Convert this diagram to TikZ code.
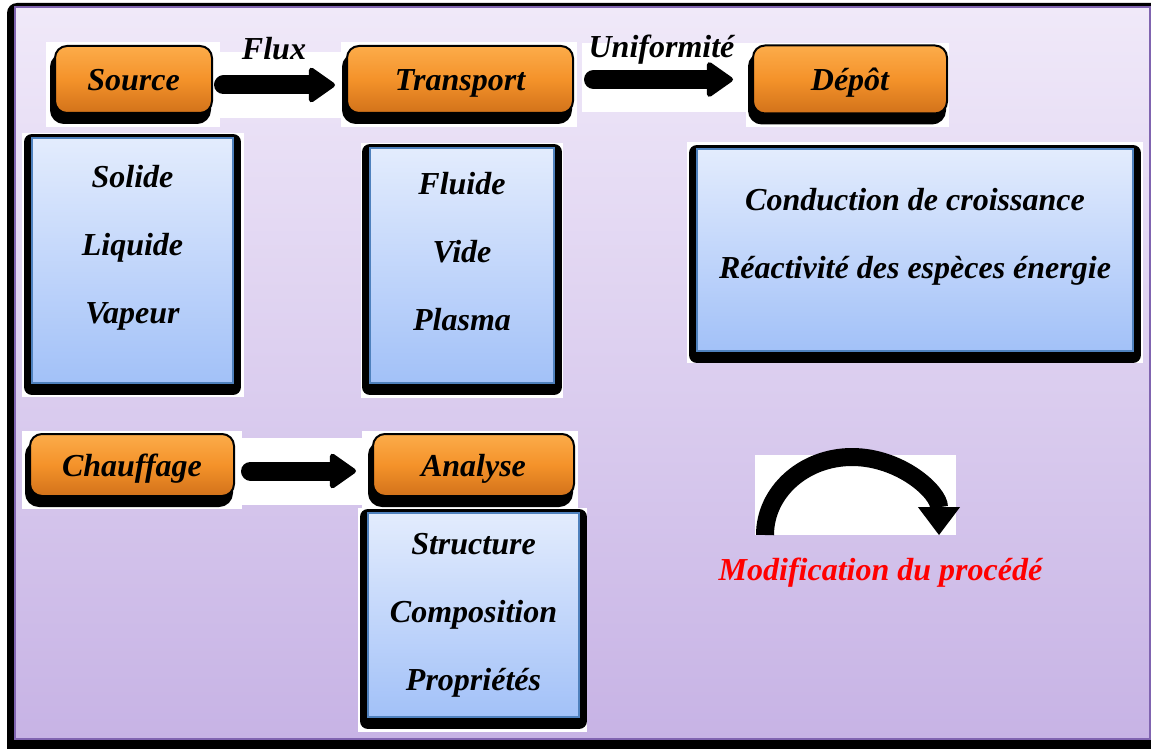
\documentclass[tikz,border=0pt]{standalone}
\usepackage{fontspec}
\setmainfont{Liberation Serif}
\usetikzlibrary{arrows.meta}

\begin{document}
\begin{tikzpicture}[x=1pt,y=-1pt,
  txt/.style={font=\fontsize{32}{68}\selectfont\bfseries\itshape, inner sep=0pt, align=center},
  orangebox/.style={txt, draw=black, line width=2pt, rounded corners=12pt,
    top color={rgb,255:red,252;green,172;blue,74}, bottom color={rgb,255:red,210;green,114;blue,26},
    middle color={rgb,255:red,244;green,146;blue,42},
    preaction={fill=black, draw=black, line width=4pt, line join=round, transform canvas={shift={(-3pt,-9pt)}}},
    text height=29pt, text depth=7pt},
  bluebox/.style={draw={rgb,255:red,79;green,129;blue,189}, line width=1.5pt,
    top color={rgb,255:red,227;green,236;blue,253}, bottom color={rgb,255:red,162;green,193;blue,248},
    preaction={fill=black, draw=black, line width=16pt, line join=round, transform canvas={yshift=-4pt}}},
  fatarrow/.style={line width=19pt, line cap=round, -{Triangle[length=28pt,width=38pt,line width=5pt,round]}}]
\useasboundingbox (0,0) rectangle (1151,749);

%Shape: Frame
\fill[black, rounded corners=10pt] (7,3) rectangle (1170,760);
\draw[draw={rgb,255:red,128;green,100;blue,176}, line width=2pt, top color={rgb,255:red,240;green,233;blue,249}, bottom color={rgb,255:red,199;green,179;blue,229}] (15,7) rectangle (1150,739);

%Shape: white backgrounds
\fill[white] (46,42) rectangle (220,127);
\fill[white] (212,52) rectangle (341,118);
\fill[white] (341,42) rectangle (577,127);
\fill[white] (582,43) rectangle (746,112);
\fill[white] (746,43) rectangle (949,127);
\fill[white] (22,133) rectangle (244,397);
\fill[white] (361,143) rectangle (563,398);
\fill[white] (687,142) rectangle (1143,363);
\fill[white] (22,431) rectangle (242,509);
\fill[white] (242,438) rectangle (384,505);
\fill[white] (362,431) rectangle (578,509);
\fill[white] (358,508) rectangle (587,732);
\fill[white] (755,455) rectangle (956,535);

%Shape: orange boxes
\node[orangebox, minimum width=157pt, minimum height=67pt] (source) at (133.5,79.5) {Source};
\node[orangebox, minimum width=226pt, minimum height=67pt] (transport) at (460,79.5) {Transport};
\node[orangebox, minimum width=194pt, minimum height=68pt] (depot) at (850,79.5) {Dépôt};
\node[orangebox, minimum width=204pt, minimum height=62pt] (chauffage) at (132,465) {Chauffage};
\node[orangebox, minimum width=201pt, minimum height=62pt] (analyse) at (473.5,465) {Analyse};

%Shape: blue boxes
\node[bluebox, minimum width=201pt, minimum height=245pt] (sourcebox) at (132.5,260.5) {};
\node[bluebox, minimum width=184pt, minimum height=235pt] (transportbox) at (462,265.5) {};
\node[bluebox, minimum width=436pt, minimum height=202pt] (depotbox) at (915,250) {};
\node[bluebox, minimum width=211pt, minimum height=204pt] (analysebox) at (473.5,615) {};

% Text Node
\node[txt] (sourcelist) at ([yshift=12.8pt]sourcebox.center) {Solide\\Liquide\\Vapeur};
\node[txt] (transportlist) at ([yshift=13.5pt]transportbox.center) {Fluide\\Vide\\Plasma};
\node[txt] (depotlist) at ([yshift=13.5pt]depotbox.center) {Conduction de croissance\\Réactivité des espèces énergie};
\node[txt] (analyselist) at (analysebox.center) {Structure\\Composition\\Propriétés};

%Straight Lines
\draw[fatarrow, shorten <=10.5pt, shorten >=11pt] ([yshift=-5.5pt]source.east) -- ([yshift=-5.5pt]transport.west)
  node[txt, midway, anchor=base, xshift=-5.5pt, yshift=25pt] (flux) {Flux};
\draw[fatarrow, shorten <=19.5pt, shorten >=19pt] (transport.east) -- (depot.west)
  node[txt, midway, anchor=base, xshift=-1.5pt, yshift=22pt] (uniformite) {Uniformité};
\draw[fatarrow, shorten <=15.5pt, shorten >=16pt] ([yshift=-6pt]chauffage.east) -- ([yshift=-6pt]analyse.west);

%Curve Lines
\draw[line width=18pt, -{Triangle[length=28pt,width=42pt,line width=1pt]}] (765,535) arc[start angle=180, end angle=360, x radius=87, y radius=78];

% Text Node
\node[txt, text=red, anchor=base] (modification) at (880.5,580) {Modification du procédé};

\end{tikzpicture}
\end{document}
